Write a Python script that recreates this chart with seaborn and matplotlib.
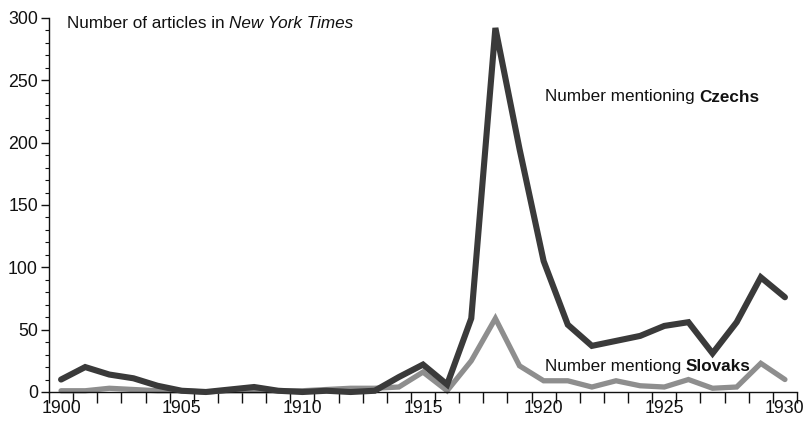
import matplotlib
matplotlib.use("Agg")
import matplotlib.pyplot as plt
import matplotlib.transforms as mtransforms
import numpy as np
import pandas as pd
import seaborn as sns

years = list(range(1900, 1931))
czechs = [10, 20, 14, 11, 5, 1, 0, 2, 4, 1, 0, 1, 0, 1, 12,
          22, 6, 59, 292, 195, 105, 54, 37, 41, 45, 53, 56, 31, 56, 92, 76]
slovaks = [1, 1, 3, 2, 1, 1, 0, 1, 1, 1, 1, 2, 3, 3, 4,
           16, 1, 25, 59, 21, 9, 9, 4, 9, 5, 4, 10, 3, 4, 23, 10]

y_major = list(range(0, 301, 50))
x_labels = list(range(1900, 1931, 5))

sns.set_style("ticks")
plt.rcParams["font.family"] = ["Liberation Sans", "DejaVu Sans"]

fig = plt.figure(figsize=(8.04, 4.28), dpi=100)
ax = fig.add_axes([49 / 804, 1 - 392 / 428, (797 - 49) / 804, (392 - 18) / 428])

df = pd.DataFrame({"year": years, "czechs": czechs, "slovaks": slovaks})
sns.lineplot(data=df, x="year", y="slovaks", ax=ax, color="#8e8e8e", lw=3.8,
             solid_joinstyle="miter", clip_on=False, zorder=2)
sns.lineplot(data=df, x="year", y="czechs", ax=ax, color="#3a3a3a", lw=4.4,
             solid_joinstyle="miter", clip_on=False, zorder=3)

ax.set_xlim(1899.5, 1930.5)
ax.set_ylim(0, 300)
ax.set_xlabel("")
ax.set_ylabel("")
for s in ["top", "right"]:
    ax.spines[s].set_visible(False)
for s in ["left", "bottom"]:
    ax.spines[s].set_linewidth(1.0)
    ax.spines[s].set_color("#111111")

ax.set_yticks(y_major)
ax.set_yticks(np.arange(0, 301, 10), minor=True)
ax.tick_params(axis="y", which="major", length=6, width=1, labelsize=12.8, pad=2, colors="#111111")
ax.tick_params(axis="y", which="minor", length=3, width=0.8, colors="#111111")

ax.set_xticks(x_labels)
ax.set_xticklabels([str(v) for v in x_labels])
ax.set_xticks(np.arange(1899.5, 1931, 1), minor=True)
ax.tick_params(axis="x", which="major", length=0, labelsize=12.8, pad=6, colors="#111111")
ax.tick_params(axis="x", which="minor", length=8, width=1, colors="#111111")

fs = 12.3
fig.canvas.draw()
renderer = fig.canvas.get_renderer()


def two_part(x, y, a, b, style_b=None, weight_b=None):
    t = ax.text(x, y, a, transform=ax.transAxes, fontsize=fs, va="baseline",
                ha="left", color="#111111")
    w = t.get_window_extent(renderer=renderer).width
    space = 0.278 * fs * fig.dpi / 72
    tr = mtransforms.offset_copy(ax.transAxes, fig=fig, x=w + space, y=0, units="dots")
    ax.text(x, y, b, transform=tr, fontsize=fs, va="baseline", ha="left",
            color="#111111", style=style_b or "normal", weight=weight_b or "normal")


two_part((67 - 49) / 748, (392 - 28) / 374, "Number of articles in", "New York Times",
         style_b="italic")
two_part((545 - 49) / 748, (392 - 101.5) / 374, "Number mentioning", "Czechs",
         weight_b="bold")
two_part((545 - 49) / 748, (392 - 371) / 374, "Number mentiong", "Slovaks",
         weight_b="bold")

fig.savefig("out.png", dpi=100)
